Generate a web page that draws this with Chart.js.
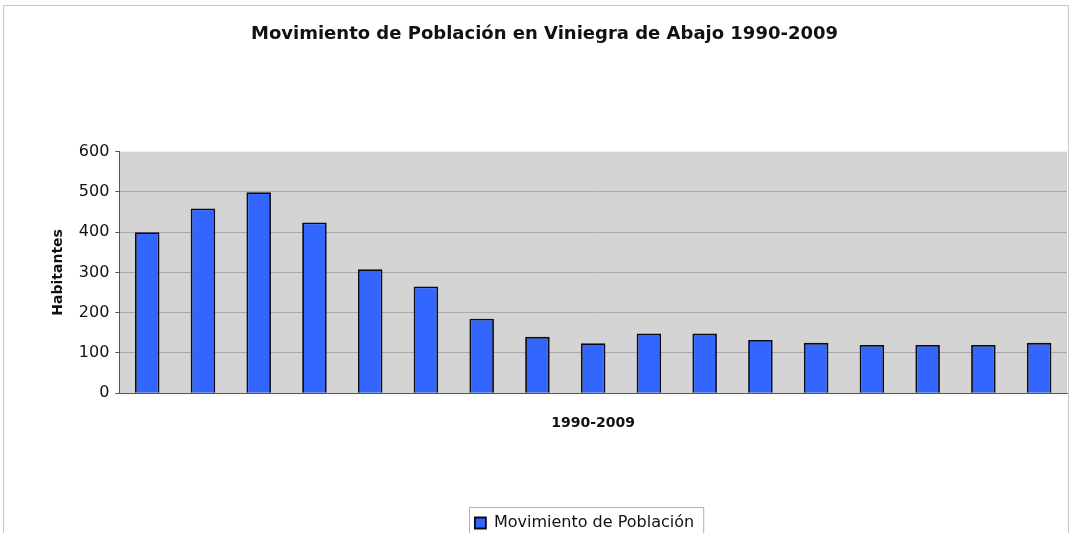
<!DOCTYPE html>
<html>
<head>
<meta charset="utf-8">
<script src="https://cdn.jsdelivr.net/npm/chart.js@4.4.1/dist/chart.umd.min.js"></script>
<style>
  html, body { margin: 0; padding: 0; background: #ffffff; }
  #wrap { position: relative; width: 1072px; height: 533px; overflow: hidden; }
  #frame { position: absolute; left: 3px; top: 5px; width: 1066px; height: 540px; border: 1px solid #c8c8c8; box-sizing: border-box; }
  canvas { position: absolute; left: 0; top: 0; }
</style>
</head>
<body>
<div id="wrap">
  <div id="frame"></div>
  <canvas id="chart" width="1072" height="541"></canvas>
</div>
<script>
// Datos del gráfico (las etiquetas del eje X no se muestran en el original)
const years = ['1990', '1991', '1992', '1993', '1994', '1995', '1996', '1998', '1999',
               '2000', '2001', '2002', '2003', '2004', '2005', '2006', '2007'];
const habitantes = [400, 459, 499, 424, 308, 265, 185, 140, 124, 148, 148, 132, 125, 120, 120, 120, 125];
const yTicks = [0, 100, 200, 300, 400, 500, 600];

const chartTitle = 'Movimiento de Población en Viniegra de Abajo 1990-2009';
const seriesName = 'Movimiento de Población';
const xTitle = '1990-2009';
const yTitle = 'Habitantes';

const FONT = "'DejaVu Sans', sans-serif";

// Fondo gris del área de trazado
const plotBackground = {
  id: 'plotBackground',
  beforeDraw(chart) {
    const a = chart.chartArea;
    const ctx = chart.ctx;
    ctx.save();
    ctx.fillStyle = '#d4d4d4';
    ctx.fillRect(a.left, a.top, a.right - a.left, a.bottom - a.top);
    ctx.restore();
  }
};

// En el original el título está un poco a la izquierda y la leyenda a la derecha
const blockShift = {
  id: 'blockShift',
  afterLayout(chart) {
    if (chart.titleBlock) {
      chart.titleBlock.left -= 14;
      chart.titleBlock.right -= 14;
    }
    if (chart.legend) {
      chart.legend.left += 26;
      chart.legend.right += 26;
    }
  }
};

// Recuadro alrededor de la leyenda
const legendFrame = {
  id: 'legendFrame',
  afterDraw(chart) {
    const boxes = chart.legend && chart.legend.legendHitBoxes;
    if (!boxes || !boxes.length) return;
    const b = boxes[0];
    const ctx = chart.ctx;
    ctx.save();
    ctx.strokeStyle = '#b0b0b0';
    ctx.lineWidth = 1;
    ctx.strokeRect(Math.round(b.left) - 5.5, Math.round(b.top) - 7.5, b.width + 15, b.height + 30);
    ctx.restore();
  }
};

new Chart(document.getElementById('chart').getContext('2d'), {
  type: 'bar',
  data: {
    labels: years,
    datasets: [{
      label: seriesName,
      data: habitantes,
      backgroundColor: '#3366ff',
      borderColor: '#0a0a1a',
      borderWidth: 1.8,
      barPercentage: 0.44,
      categoryPercentage: 1.0
    }]
  },
  options: {
    responsive: false,
    animation: false,
    layout: { padding: { left: 50, right: 5, top: 24, bottom: 0 } },
    plugins: {
      title: {
        display: true,
        text: chartTitle,
        color: '#111111',
        font: { family: FONT, size: 18, weight: 'bold' },
        padding: { top: 0, bottom: 106 }
      },
      legend: {
        position: 'bottom',
        labels: {
          color: '#111111',
          font: { family: FONT, size: 16 },
          boxWidth: 11,
          boxHeight: 11,
          padding: 2
        }
      },
      tooltip: { enabled: false }
    },
    scales: {
      x: {
        grid: { display: false, drawTicks: false },
        border: { display: true, color: '#555555', width: 1 },
        ticks: { display: false },
        title: {
          display: true,
          text: xTitle,
          color: '#111111',
          font: { family: FONT, size: 14, weight: 'bold' },
          padding: { top: 22, bottom: 81 }
        }
      },
      y: {
        min: 0,
        max: 600,
        afterBuildTicks(axis) { axis.ticks = yTicks.map(v => ({ value: v })); },
        grid: {
          color: ctx => (ctx.tick && ctx.tick.value === 600) ? 'rgba(0,0,0,0)' : '#a9a9a9',
          lineWidth: 1,
          tickLength: 4,
          tickColor: '#555555'
        },
        border: { display: true, color: '#555555', width: 1 },
        ticks: {
          color: '#111111',
          font: { family: FONT, size: 16 },
          padding: 6
        },
        title: {
          display: true,
          text: yTitle,
          color: '#111111',
          font: { family: FONT, size: 14, weight: 'bold' },
          padding: { top: 0, bottom: 6 }
        }
      }
    }
  },
  plugins: [plotBackground, blockShift, legendFrame]
});
</script>
</body>
</html>
